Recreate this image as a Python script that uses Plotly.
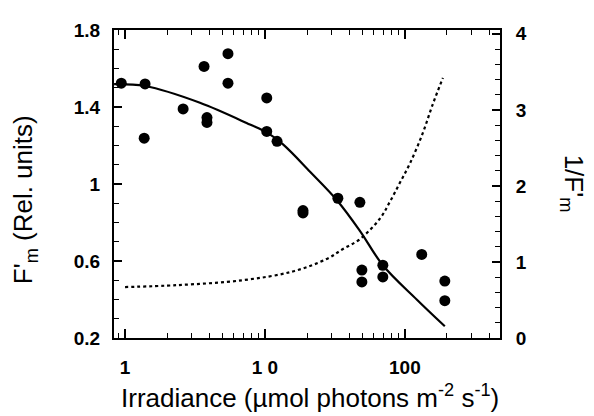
import plotly.graph_objects as go

# measured points, F'm (left axis)
irr_pts = [0.94, 1.39, 1.37, 2.6, 3.67, 3.85, 3.85, 5.44, 5.44, 10.3, 10.3, 12.2,
           18.7, 18.7, 33.2, 47.7, 49.3, 49.3, 69.6, 69.6, 132, 193, 193]
fm_pts = [1.524, 1.52, 1.238, 1.39, 1.611, 1.345, 1.32, 1.677, 1.524, 1.447, 1.273, 1.222,
          0.862, 0.85, 0.926, 0.905, 0.553, 0.491, 0.578, 0.517, 0.634, 0.496, 0.394]

# fitted curve for F'm (left axis)
fit_x = [0.835, 1.39, 3.43, 7.81, 10.3, 13.4, 21.0, 32.7, 47.7, 69.6, 122, 193]
fit_y = [1.519, 1.509, 1.422, 1.309, 1.268, 1.207, 1.064, 0.916, 0.757, 0.578, 0.399, 0.261]

# 1/F'm curve (right axis)
inv_x = [1.0, 2.35, 6.96, 15.8, 27.7, 36.1, 47.7, 66.3, 78.1, 92.1, 109, 134, 158, 187]
inv_y = [0.67, 0.695, 0.76, 0.875, 1.04, 1.17, 1.30, 1.57, 1.79, 2.04, 2.30, 2.69, 3.07, 3.42]

x_major = [1, 10, 100]
x_minor = [0.9, 2, 3, 4, 5, 6, 7, 8, 9, 20, 30, 40, 50, 60, 70, 80, 90, 200, 300, 400]
y_left_ticks = [0.2, 0.6, 1, 1.4, 1.8]
y_right_ticks = [0, 1, 2, 3, 4]

tick_font = dict(family="Liberation Sans, Arial", size=19, color="black", weight="bold")
title_font = dict(family="Liberation Sans, Arial", size=26, color="black")

fig = go.Figure()

fig.add_trace(go.Scatter(x=inv_x, y=inv_y, mode="lines", yaxis="y2",
                         line=dict(color="black", width=2.2, dash="dot", shape="spline")))
fig.add_trace(go.Scatter(x=fit_x, y=fit_y, mode="lines",
                         line=dict(color="black", width=2.2, shape="spline")))
fig.add_trace(go.Scatter(x=irr_pts, y=fm_pts, mode="markers",
                         marker=dict(color="black", size=11)))

# page body adds an 8px offset, so the plot area is shifted up/left by 8px
fig.update_layout(
    width=594, height=416,
    margin=dict(l=106, r=102, t=16, b=86),
    paper_bgcolor="white", plot_bgcolor="white",
    showlegend=False,
    xaxis=dict(
        type="log", range=[-0.079, 2.68],
        tickvals=x_major, ticktext=["1", "1 0", "100"],
        ticks="inside", ticklen=9, tickwidth=1.5, tickcolor="black",
        minor=dict(tickvals=x_minor, ticks="inside", ticklen=5, tickwidth=1.2,
                   tickcolor="black", showgrid=False),
        showline=True, linecolor="black", linewidth=2, mirror="ticks",
        showgrid=False, zeroline=False, tickfont=tick_font, ticklabelstandoff=11,
    ),
    yaxis=dict(
        range=[0.2, 1.8], tickvals=y_left_ticks,
        ticktext=["0.2", "0.6", "1", "1.4", "1.8"],
        ticks="inside", ticklen=8, tickwidth=1.5, tickcolor="black",
        minor=dict(dtick=0.1, tick0=0.2, ticks="inside", ticklen=5, tickwidth=1.2,
                   tickcolor="black", showgrid=False),
        showline=True, linecolor="black", linewidth=2,
        showgrid=False, zeroline=False, tickfont=tick_font, ticklabelstandoff=8,
    ),
    yaxis2=dict(
        overlaying="y", side="right", range=[0, 4.05], tickvals=y_right_ticks,
        ticks="inside", ticklen=8, tickwidth=1.5, tickcolor="black",
        minor=dict(dtick=0.2, tick0=0, ticks="inside", ticklen=5, tickwidth=1.2,
                   tickcolor="black", showgrid=False),
        showline=True, linecolor="black", linewidth=2,
        showgrid=False, zeroline=False, tickfont=tick_font, ticklabelstandoff=10,
    ),
)

fig.add_annotation(text="F'<sub>m</sub> (Rel. units)", xref="paper", yref="paper",
                   x=-0.231, y=0.45, xanchor="center", yanchor="middle",
                   textangle=-90, showarrow=False, font=title_font)
fig.add_annotation(text="1/F'<sub>m</sub>", xref="paper", yref="paper",
                   x=1.19, y=0.5, xanchor="center", yanchor="middle",
                   textangle=90, showarrow=False, font=title_font)
fig.add_annotation(text="Irradiance (µmol photons m<sup>-2</sup> s<sup>-1</sup>)",
                   xref="paper", yref="paper", x=0.508, y=-0.19,
                   xanchor="center", yanchor="middle", showarrow=False,
                   font=title_font)

fig.write_html("out.html")
